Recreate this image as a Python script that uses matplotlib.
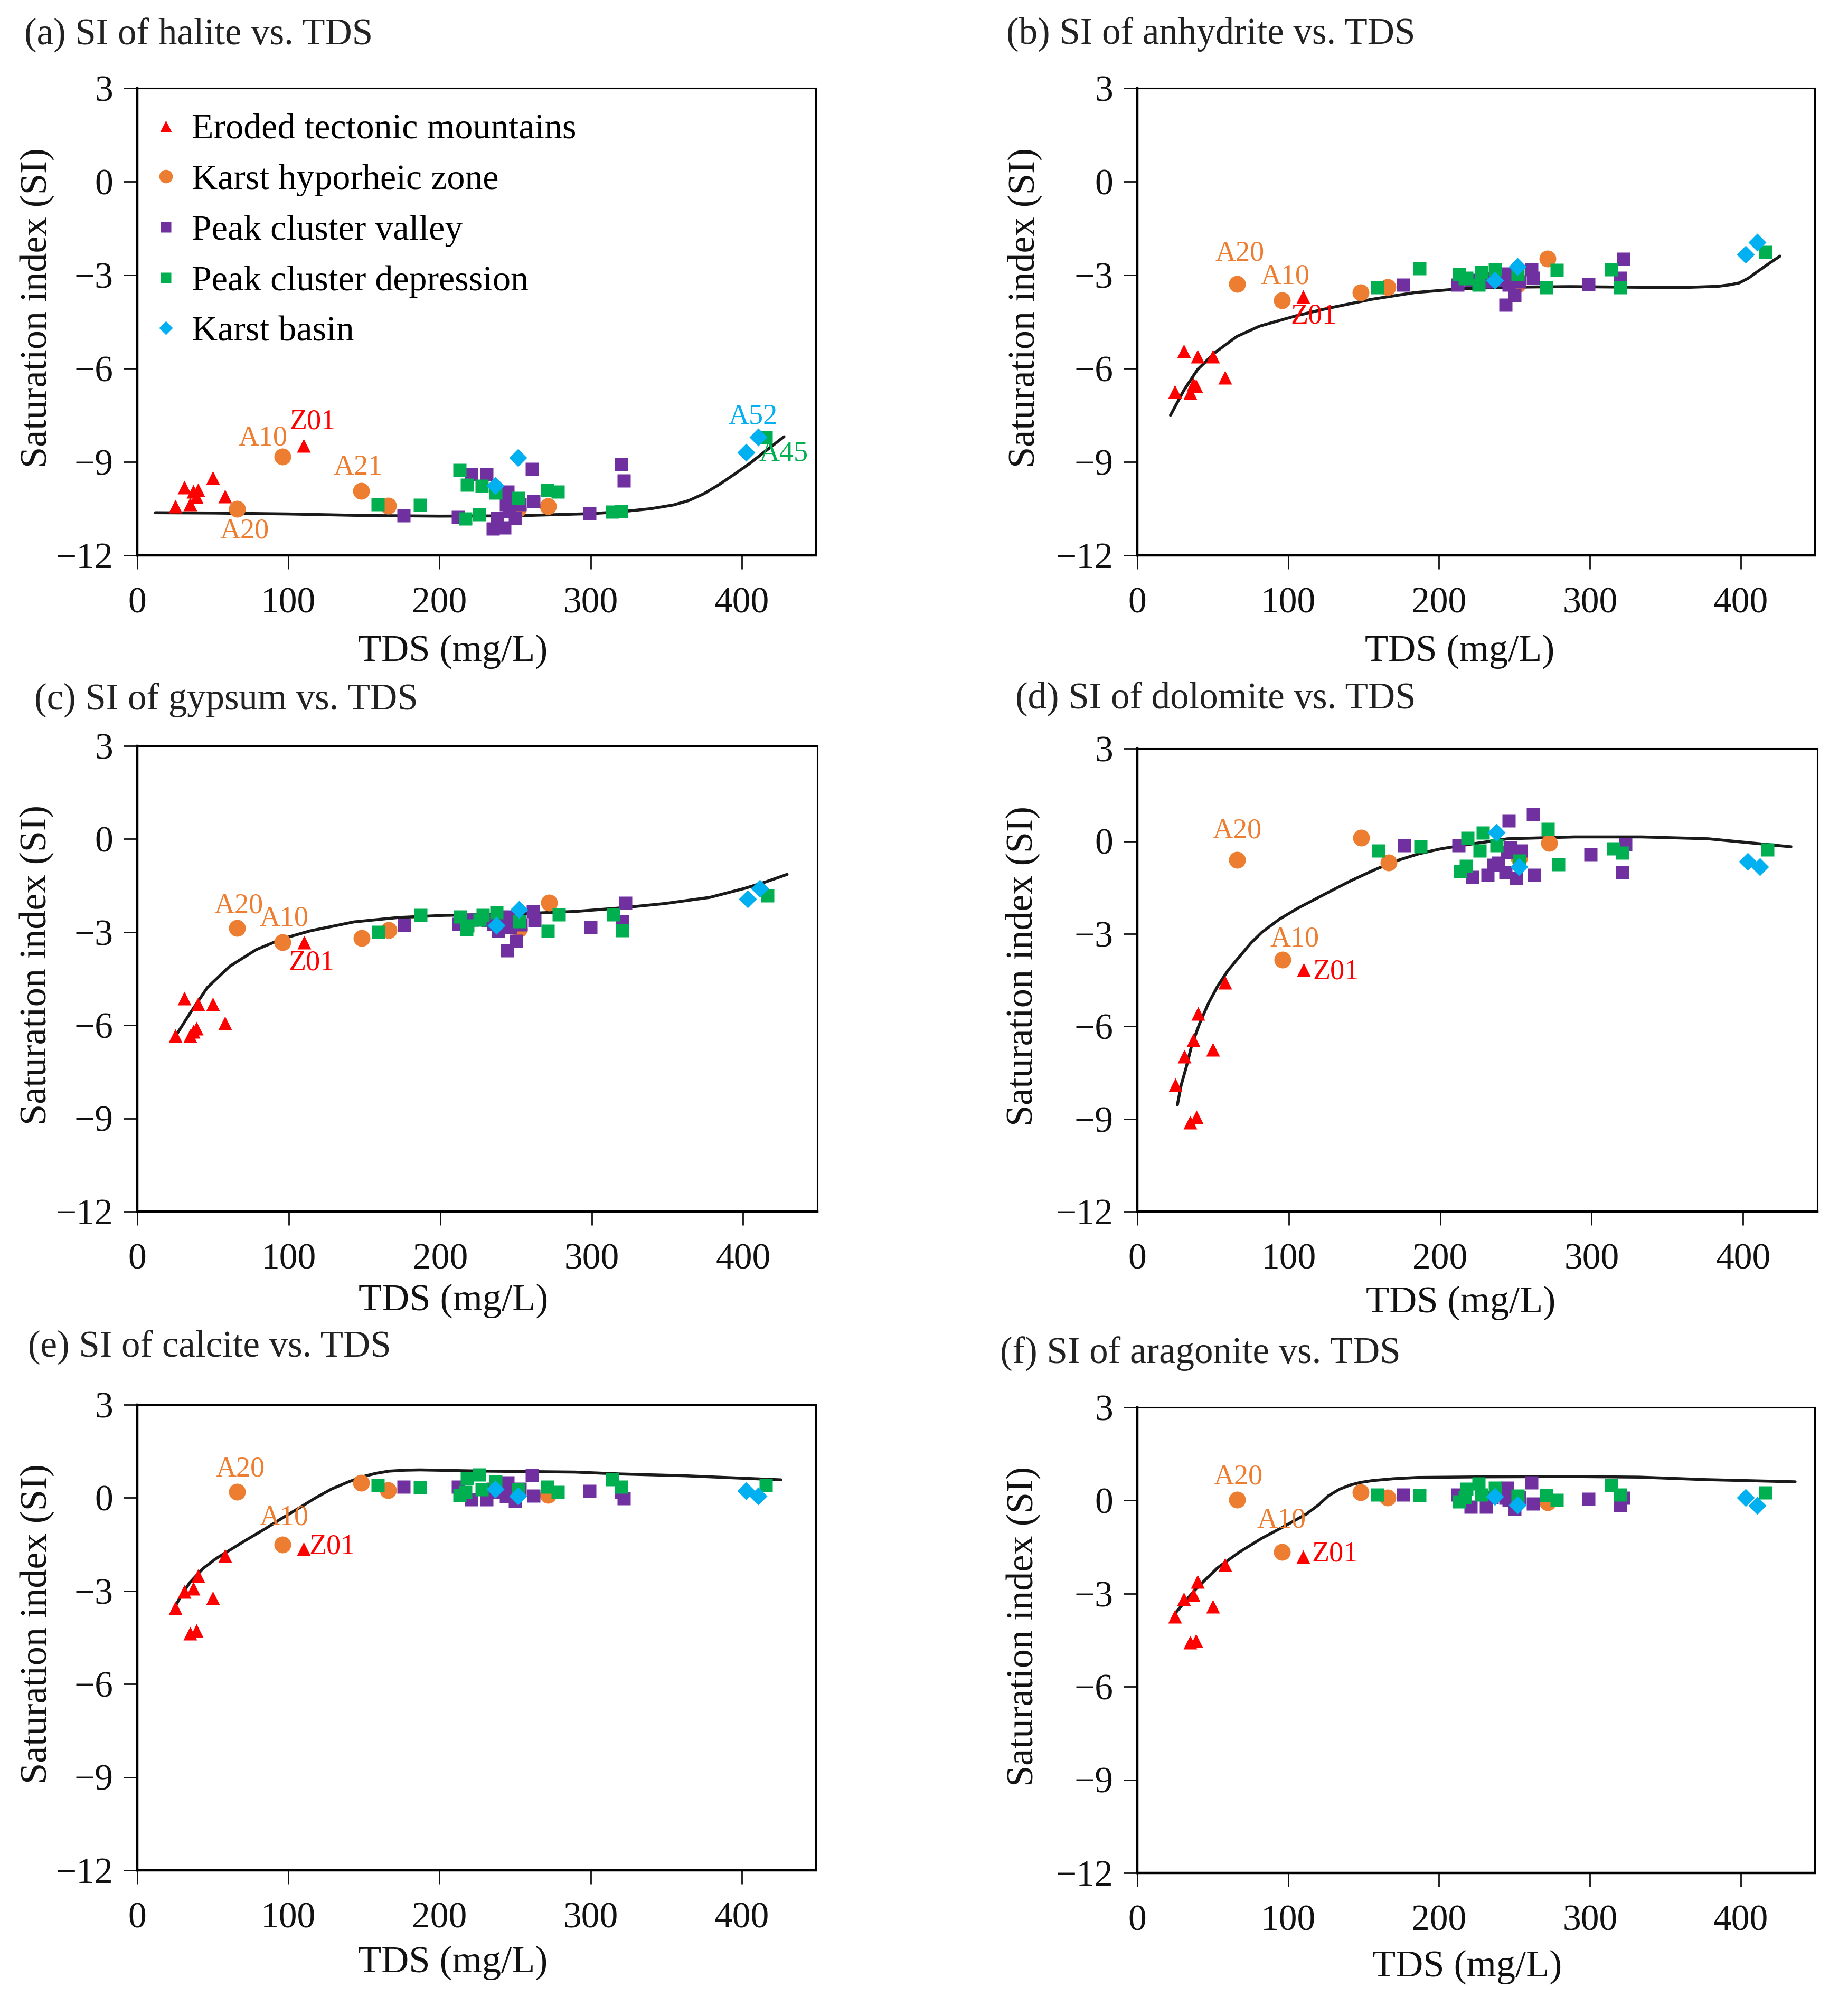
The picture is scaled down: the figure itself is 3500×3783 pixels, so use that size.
import matplotlib
matplotlib.use("Agg")
import matplotlib.pyplot as plt

FONT = ['Liberation Serif', 'DejaVu Serif']
plt.rcParams['font.family'] = FONT
plt.rcParams['font.serif'] = ['Liberation Serif', 'DejaVu Serif']
plt.rcParams['axes.unicode_minus'] = True

# ---------------- data ----------------
groups = ["Eroded tectonic mountains", "Karst hyporheic zone", "Peak cluster valley",
          "Peak cluster depression", "Karst basin"]

tds_red = [25, 31, 35, 37, 39, 40, 50, 58, 110]
tds_orange = [66, 96, 148, 166, 252, 272]
tds_purple = [176, 212, 221, 231, 235, 238, 243, 244, 245, 246, 250, 253, 261, 262, 299, 320, 322]
tds_green = [159, 187, 213, 217, 218, 226, 228, 237, 252, 271, 278, 314, 320, 416]
tds_blue = [237, 252, 403, 411]

halite_red = [-10.43, -9.81, -10.35, -9.95, -10.12, -9.9, -9.5, -10.1, -8.47]
halite_orange = [-10.5, -8.83, -9.93, -10.4, -10.5, -10.43]
halite_purple = [-10.71, -10.77, -9.39, -9.39, -11.13, -10.8, -11.1, -10.35, -9.95, -10.57,
                 -10.8, -10.35, -9.22, -10.26, -10.65, -9.06, -9.6]
halite_green = [-10.35, -10.37, -9.25, -10.82, -9.73, -10.68, -9.76, -9.98, -10.15, -9.9,
                -9.95, -10.6, -10.57, -8.2]
halite_blue = [-9.76, -8.86, -8.69, -8.21]

anhydrite_red = [-6.75, -5.44, -6.78, -6.5, -6.55, -5.61, -5.61, -6.28, -3.69]
anhydrite_orange = [-3.28, -3.81, -3.56, -3.39, -3.3, -2.47]
anhydrite_purple = [-3.31, -3.3, -3.15, -3.2, -3.1, -3.0, -3.15, -3.94, -2.95, -3.3,
                    -3.64, -3.2, -2.81, -3.08, -3.28, -3.08, -2.47]
anhydrite_green = [-3.39, -2.78, -2.97, -3.1, -3.08, -3.3, -2.89, -2.81, -2.97, -3.39,
                   -2.83, -2.81, -3.39, -2.25]
anhydrite_blue = [-3.17, -2.72, -2.33, -1.94]

gypsum_red = [-6.34, -5.12, -6.34, -6.2, -6.09, -5.32, -5.32, -5.92, -3.33]
gypsum_orange = [-2.87, -3.33, -3.19, -2.93, -2.9, -2.05]
gypsum_purple = [-2.76, -2.73, -2.6, -2.62, -2.73, -2.96, -2.7, -3.58, -2.5, -2.84,
                 -3.27, -2.75, -2.33, -2.62, -2.84, -2.65, -2.05]
gypsum_green = [-2.99, -2.45, -2.5, -2.9, -2.79, -2.6, -2.45, -2.36, -2.65, -2.96,
                -2.42, -2.42, -2.93, -1.82]
gypsum_blue = [-2.79, -2.28, -1.93, -1.59]

dolomite_red = [-7.9, -6.96, -9.1, -6.43, -8.93, -5.58, -6.75, -4.58, -4.17]
dolomite_orange = [-0.6, -3.83, 0.12, -0.69, -0.55, -0.06]
dolomite_purple = [-0.13, -0.13, -1.15, -1.08, -0.76, -0.69, -1.0, -0.34, 0.68, -0.2,
                   -1.18, -0.3, 0.89, -1.08, -0.41, -1.0, -0.09]
dolomite_green = [-0.3, -0.16, -0.97, -0.79, 0.12, -0.3, 0.29, -0.13, -0.62, 0.4,
                  -0.74, -0.23, -0.37, -0.27]
dolomite_blue = [0.29, -0.83, -0.65, -0.83]

calcite_red = [-3.55, -3.02, -4.36, -2.91, -4.28, -2.51, -3.23, -1.87, -1.64]
calcite_orange = [0.19, -1.51, 0.48, 0.25, 0.2, 0.1]
calcite_purple = [0.37, 0.37, -0.04, -0.04, 0.3, 0.2, 0.45, 0.05, 0.5, 0.1,
                  -0.1, 0.3, 0.74, 0.08, 0.22, 0.19, -0.01]
calcite_green = [0.41, 0.34, 0.1, 0.2, 0.63, 0.75, 0.28, 0.54, 0.28, 0.37,
                 0.19, 0.6, 0.37, 0.42]
calcite_blue = [0.28, 0.05, 0.22, 0.05]

aragonite_red = [-3.73, -3.17, -4.57, -3.03, -4.51, -2.62, -3.41, -2.07, -1.81]
aragonite_orange = [0.03, -1.66, 0.26, 0.09, 0.0, -0.06]
aragonite_purple = [0.2, 0.2, -0.2, -0.2, 0.1, 0.2, 0.3, 0.09, 0.41, 0.03,
                    -0.26, 0.1, 0.58, -0.09, 0.06, -0.15, 0.09]
aragonite_green = [0.2, 0.17, -0.03, 0.1, 0.38, 0.55, 0.2, 0.41, 0.15, 0.17,
                   0.03, 0.5, 0.2, 0.26]
aragonite_blue = [0.12, -0.15, 0.09, -0.17]

# trend curves
curve_tds_halite = [12, 50, 100, 150, 200, 250, 300, 320, 340, 355, 365, 375, 385, 395,
                    405, 415, 428]
curve_si_halite = [-10.63, -10.64, -10.67, -10.72, -10.74, -10.73, -10.66, -10.6, -10.5,
                   -10.38, -10.24, -10.02, -9.73, -9.4, -9.06, -8.68, -8.19]
curve_tds_anhydrite = [22, 31, 40, 52, 66, 81, 105, 125, 155, 184, 214, 243, 287, 331, 361,
                       385, 393, 399, 405, 411, 418, 426]
curve_si_anhydrite = [-7.5, -6.69, -6.03, -5.47, -4.97, -4.64, -4.31, -4.08, -3.78, -3.56,
                      -3.44, -3.39, -3.37, -3.39, -3.4, -3.36, -3.31, -3.25, -3.1, -2.89,
                      -2.65, -2.39]
curve_tds_gypsum = [23.5, 34.6, 46.3, 61, 78.6, 96, 114, 143, 172, 202, 246, 290, 319, 348,
                    378, 401, 415, 429]
curve_si_gypsum = [-6.48, -5.63, -4.78, -4.1, -3.56, -3.21, -2.96, -2.67, -2.53, -2.46,
                   -2.42, -2.33, -2.22, -2.08, -1.88, -1.59, -1.38, -1.14]
curve_tds_dolomite = [26.5, 29, 32.4, 36, 41.2, 47, 53, 60, 67.8, 75, 82.5, 94, 106, 126.7,
                      141, 156, 170, 185.6, 200, 215, 244.5, 288.7, 333, 377, 406.6, 431.6]
curve_si_dolomite = [-8.54, -7.9, -7.31, -6.6, -5.9, -5.25, -4.7, -4.18, -3.72, -3.3, -2.94,
                     -2.52, -2.17, -1.64, -1.28, -0.94, -0.65, -0.41, -0.25, -0.13, 0.08,
                     0.14, 0.14, 0.08, -0.06, -0.18]
curve_tds_calcite = [23.5, 29, 34.6, 43.4, 52, 61, 72, 84.5, 96, 108, 118, 128.4, 139, 149,
                     158, 166.6, 177, 187, 231, 289.7, 319, 363, 426]
curve_si_calcite = [-3.64, -3.15, -2.74, -2.28, -1.96, -1.69, -1.36, -1.0, -0.65, -0.3,
                    0.0, 0.28, 0.5, 0.68, 0.79, 0.86, 0.89, 0.9, 0.86, 0.83, 0.77, 0.71, 0.58]
curve_tds_aragonite = [25, 38.3, 53, 67.8, 82.5, 97.2, 112, 120, 126.7, 134, 141.4, 148,
                       156, 170, 185.6, 229.8, 288.7, 333, 377, 436]
curve_si_aragonite = [-3.64, -2.88, -2.18, -1.66, -1.22, -0.84, -0.44, -0.15, 0.15, 0.36,
                      0.5, 0.58, 0.64, 0.7, 0.74, 0.76, 0.77, 0.75, 0.67, 0.6]

titles = ["(a) SI of halite vs. TDS", "(b) SI of anhydrite vs. TDS",
          "(c) SI of gypsum vs. TDS", "(d) SI of dolomite vs. TDS",
          "(e) SI of calcite vs. TDS", "(f) SI of aragonite vs. TDS"]

# ---------------- styles ----------------
C_RED, C_ORANGE, C_PURPLE, C_GREEN, C_BLUE = "#FF0000", "#ED7D31", "#7030A0", "#00B050", "#00B0F0"
group_styles = [
    dict(marker="^", color=C_RED, ms=19),
    dict(marker="o", color=C_ORANGE, ms=23),
    dict(marker="s", color=C_PURPLE, ms=18),
    dict(marker="s", color=C_GREEN, ms=18),
    dict(marker="D", color=C_BLUE, ms=17),
]
group_tds = [tds_red, tds_orange, tds_purple, tds_green, tds_blue]

panel_si = [
    [halite_red, halite_orange, halite_purple, halite_green, halite_blue],
    [anhydrite_red, anhydrite_orange, anhydrite_purple, anhydrite_green, anhydrite_blue],
    [gypsum_red, gypsum_orange, gypsum_purple, gypsum_green, gypsum_blue],
    [dolomite_red, dolomite_orange, dolomite_purple, dolomite_green, dolomite_blue],
    [calcite_red, calcite_orange, calcite_purple, calcite_green, calcite_blue],
    [aragonite_red, aragonite_orange, aragonite_purple, aragonite_green, aragonite_blue],
]
panel_curves = [
    (curve_tds_halite, curve_si_halite),
    (curve_tds_anhydrite, curve_si_anhydrite),
    (curve_tds_gypsum, curve_si_gypsum),
    (curve_tds_dolomite, curve_si_dolomite),
    (curve_tds_calcite, curve_si_calcite),
    (curve_tds_aragonite, curve_si_aragonite),
]

# layout (figure fractions)
axes_rects = [
    [0.0743, 0.7219, 0.3671, 0.2339],
    [0.6154, 0.7219, 0.3666, 0.2339],
    [0.0743, 0.3933, 0.3680, 0.2332],
    [0.6154, 0.3933, 0.3680, 0.2318],
    [0.0743, 0.0634, 0.3671, 0.2332],
    [0.6154, 0.0621, 0.3666, 0.2332],
]
title_pos = [(0.0131, 0.9822), (0.5446, 0.9825), (0.0186, 0.6493),
             (0.5494, 0.6498), (0.0151, 0.3252), (0.5411, 0.3220)]
xlabel_pos = [(0.465, -0.206), (0.476, -0.206), (0.465, -0.192),
              (0.476, -0.198), (0.465, -0.199), (0.487, -0.202)]
ylabel_x = [-0.148, -0.166, -0.148, -0.168, -0.148, -0.168]

# sample-label annotations (text, x, y, colour)
annotations = [
    [("Z01", 116, -7.71, C_RED), ("A10", 83, -8.24, C_ORANGE), ("A21", 146, -9.18, C_ORANGE),
     ("A20", 71, -11.22, C_ORANGE), ("A52", 407.5, -7.54, C_BLUE), ("A45", 427.7, -8.73, C_GREEN)],
    [("A20", 68, -2.31, C_ORANGE), ("A10", 98, -3.05, C_ORANGE), ("Z01", 117, -4.32, C_RED)],
    [("A20", 67, -2.15, C_ORANGE), ("A10", 97, -2.56, C_ORANGE), ("Z01", 115, -3.99, C_RED)],
    [("A20", 66, 0.33, C_ORANGE), ("A10", 104, -3.17, C_ORANGE), ("Z01", 131, -4.23, C_RED)],
    [("A20", 68, 0.92, C_ORANGE), ("A10", 97, -0.64, C_ORANGE), ("Z01", 129, -1.58, C_RED)],
    [("A20", 67, 0.75, C_ORANGE), ("A10", 95.6, -0.64, C_ORANGE), ("Z01", 131, -1.74, C_RED)],
]

FS_TICK = 50
FS_LABEL = 52
FS_TITLE = 51
FS_LEGEND = 49
FS_ANN = 39

fig = plt.figure(figsize=(35, 37.83), dpi=100)

for i in range(6):
    ax = fig.add_axes(axes_rects[i])
    ctds, csi = panel_curves[i]
    ax.plot(ctds, csi, color="#1a1a1a", lw=4, zorder=1, solid_capstyle="round",
            solid_joinstyle="round")
    handles = []
    for g in range(5):
        st = group_styles[g]
        h, = ax.plot(group_tds[g], panel_si[i][g], ls="none", marker=st["marker"],
                     ms=st["ms"], color=st["color"], mec="none", zorder=3 + g,
                     label=groups[g])
        handles.append(h)
    for (txt, x, y, col) in annotations[i]:
        ax.text(x, y, txt, color=col, fontsize=FS_ANN, ha="center", va="center",
                zorder=10, family=FONT)

    ax.set_xlim(0, 449)
    ax.set_ylim(-12, 3)
    ax.set_xticks([0, 100, 200, 300, 400])
    ax.set_yticks([-12, -9, -6, -3, 0, 3])
    ax.tick_params(axis="both", direction="out", length=19, width=2, labelsize=FS_TICK,
                   colors="#111111")
    ax.tick_params(axis="x", pad=24)
    ax.tick_params(axis="y", pad=14)
    for lbl in ax.get_xticklabels() + ax.get_yticklabels():
        lbl.set_family(FONT)
    for side in ["top", "right"]:
        ax.spines[side].set_linewidth(2.2)
    for side in ["left", "bottom"]:
        ax.spines[side].set_linewidth(3.2)

    ax.set_xlabel("TDS (mg/L)", fontsize=FS_LABEL, family=FONT, color="#111111")
    ax.xaxis.label.set_va("center")
    ax.xaxis.set_label_coords(*xlabel_pos[i])
    ax.set_ylabel("Saturation index (SI)", fontsize=FS_LABEL, family=FONT, color="#111111")
    ax.yaxis.label.set_va("center")
    ax.yaxis.set_label_coords(ylabel_x[i], 0.53)

    fig.text(title_pos[i][0], title_pos[i][1], titles[i], fontsize=FS_TITLE,
             ha="left", va="center", color="#222222", family=FONT)

    if i == 0:
        ax.legend(handles=handles, loc="upper left", bbox_to_anchor=(0.0205, 0.946),
                  frameon=False, prop={"family": FONT, "size": FS_LEGEND},
                  handlelength=0.8, handletextpad=0.32,
                  labelspacing=0.5, borderpad=0, borderaxespad=0, markerscale=0.8)

fig.savefig("out.png", dpi=100)
